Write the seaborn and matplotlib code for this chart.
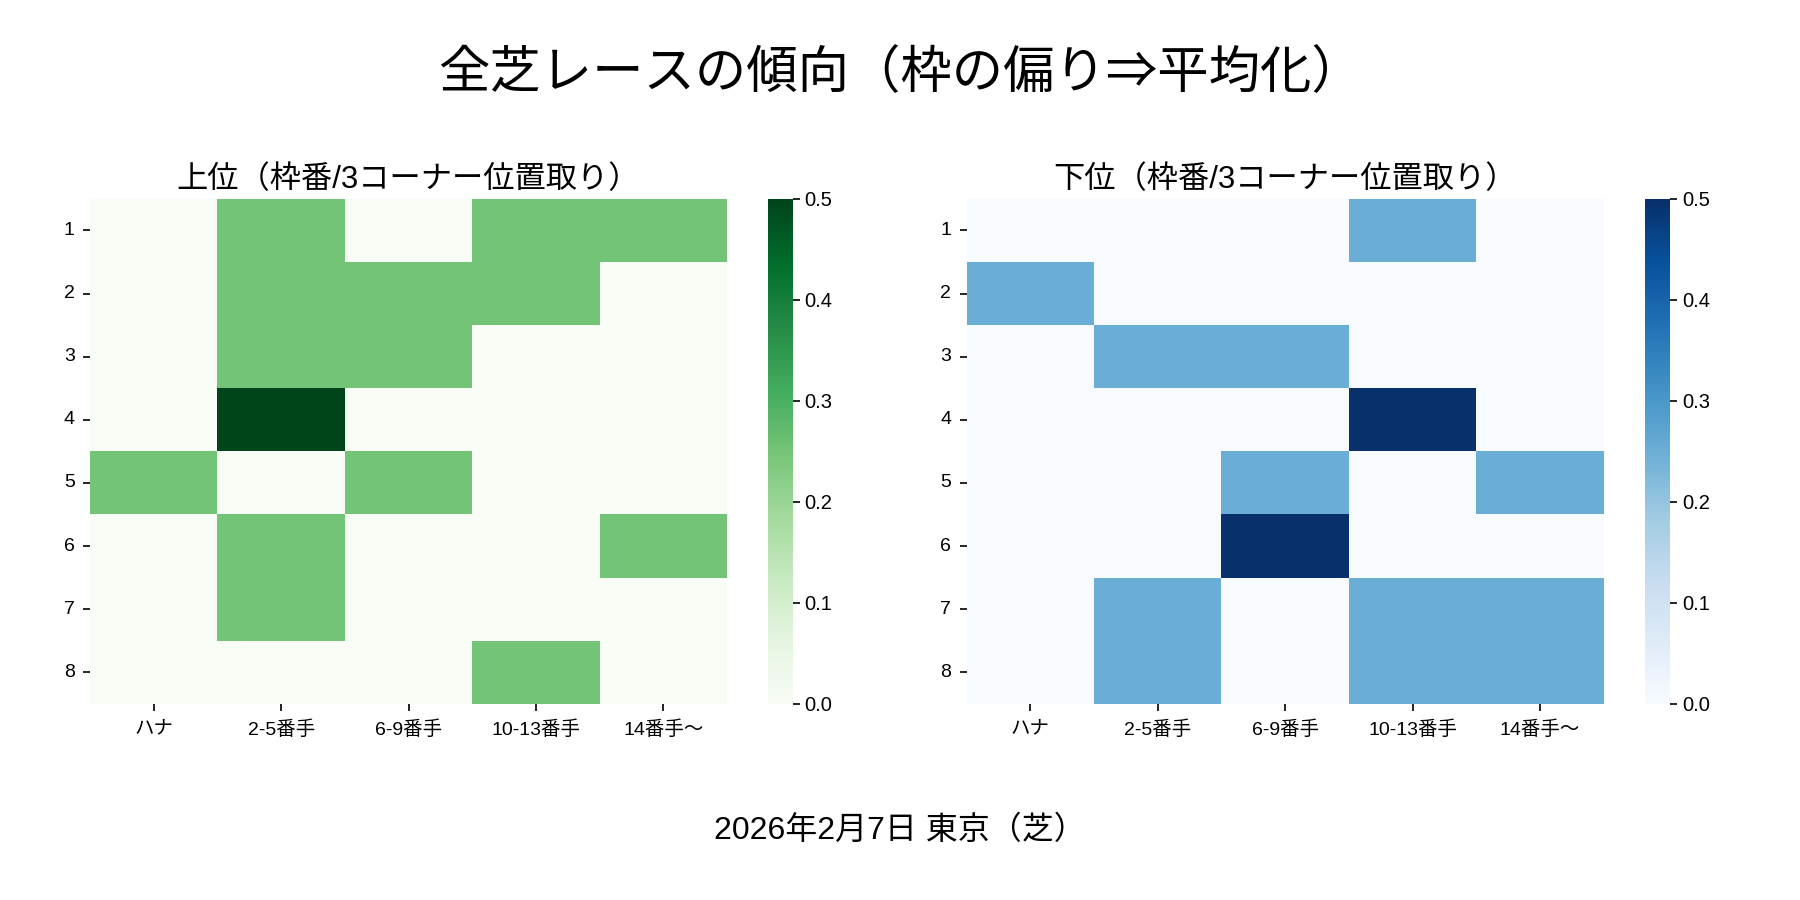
import numpy as np
import pandas as pd
import matplotlib
matplotlib.use("Agg")
import matplotlib.pyplot as plt
import seaborn as sns

plt.rcParams['font.family'] = ['Liberation Sans', 'Noto Sans CJK JP', 'DejaVu Sans']

frames = ["1", "2", "3", "4", "5", "6", "7", "8"]
positions = ["ハナ", "2-5番手", "6-9番手", "10-13番手", "14番手〜"]

top_values = [
    [0, 0.25, 0, 0.25, 0.25],
    [0, 0.25, 0.25, 0.25, 0],
    [0, 0.25, 0.25, 0, 0],
    [0, 0.5, 0, 0, 0],
    [0.25, 0, 0.25, 0, 0],
    [0, 0.25, 0, 0, 0.25],
    [0, 0.25, 0, 0, 0],
    [0, 0, 0, 0.25, 0],
]
bottom_values = [
    [0, 0, 0, 0.25, 0],
    [0.25, 0, 0, 0, 0],
    [0, 0.25, 0.25, 0, 0],
    [0, 0, 0, 0.5, 0],
    [0, 0, 0.25, 0, 0.25],
    [0, 0, 0.5, 0, 0],
    [0, 0.25, 0, 0.25, 0.25],
    [0, 0.25, 0, 0.25, 0.25],
]

main_title = "全芝レースの傾向（枠の偏り⇒平均化）"
top_title = "上位（枠番/3コーナー位置取り）"
bottom_title = "下位（枠番/3コーナー位置取り）"
footer = "2026年2月7日 東京（芝）"

df_top = pd.DataFrame(top_values, index=frames, columns=positions)
df_bot = pd.DataFrame(bottom_values, index=frames, columns=positions)

fig = plt.figure(figsize=(18, 9), dpi=100)
ax1 = fig.add_axes([0.050, 0.218, 0.354, 0.561])
cax1 = fig.add_axes([0.4265, 0.218, 0.014, 0.561])
ax2 = fig.add_axes([0.537, 0.218, 0.354, 0.561])
cax2 = fig.add_axes([0.914, 0.218, 0.014, 0.561])

sns.heatmap(df_top, ax=ax1, cbar_ax=cax1, cmap="Greens", vmin=0, vmax=0.5)
sns.heatmap(df_bot, ax=ax2, cbar_ax=cax2, cmap="Blues", vmin=0, vmax=0.5)

for ax, t in [(ax1, top_title), (ax2, bottom_title)]:
    ax.set_title(t, fontsize=22.5, pad=8)
    ax.tick_params(axis='both', labelsize=14, length=5, width=1.2)
    ax.tick_params(axis='x', pad=7)
    ax.tick_params(axis='y', pad=6)
    ax.set_yticklabels(ax.get_yticklabels(), rotation=0)
    ax.set_xticklabels(ax.get_xticklabels(), rotation=0)
    ax.set_xlabel("")
    ax.set_ylabel("")
for cax in (cax1, cax2):
    cax.tick_params(labelsize=14.5, length=5, width=1.2)

fig.text(0.5, 0.917, main_title, ha='center', va='center', fontsize=37)
fig.text(0.5, 0.077, footer, ha='center', va='center', fontsize=23)

fig.savefig("out.png", dpi=100)
